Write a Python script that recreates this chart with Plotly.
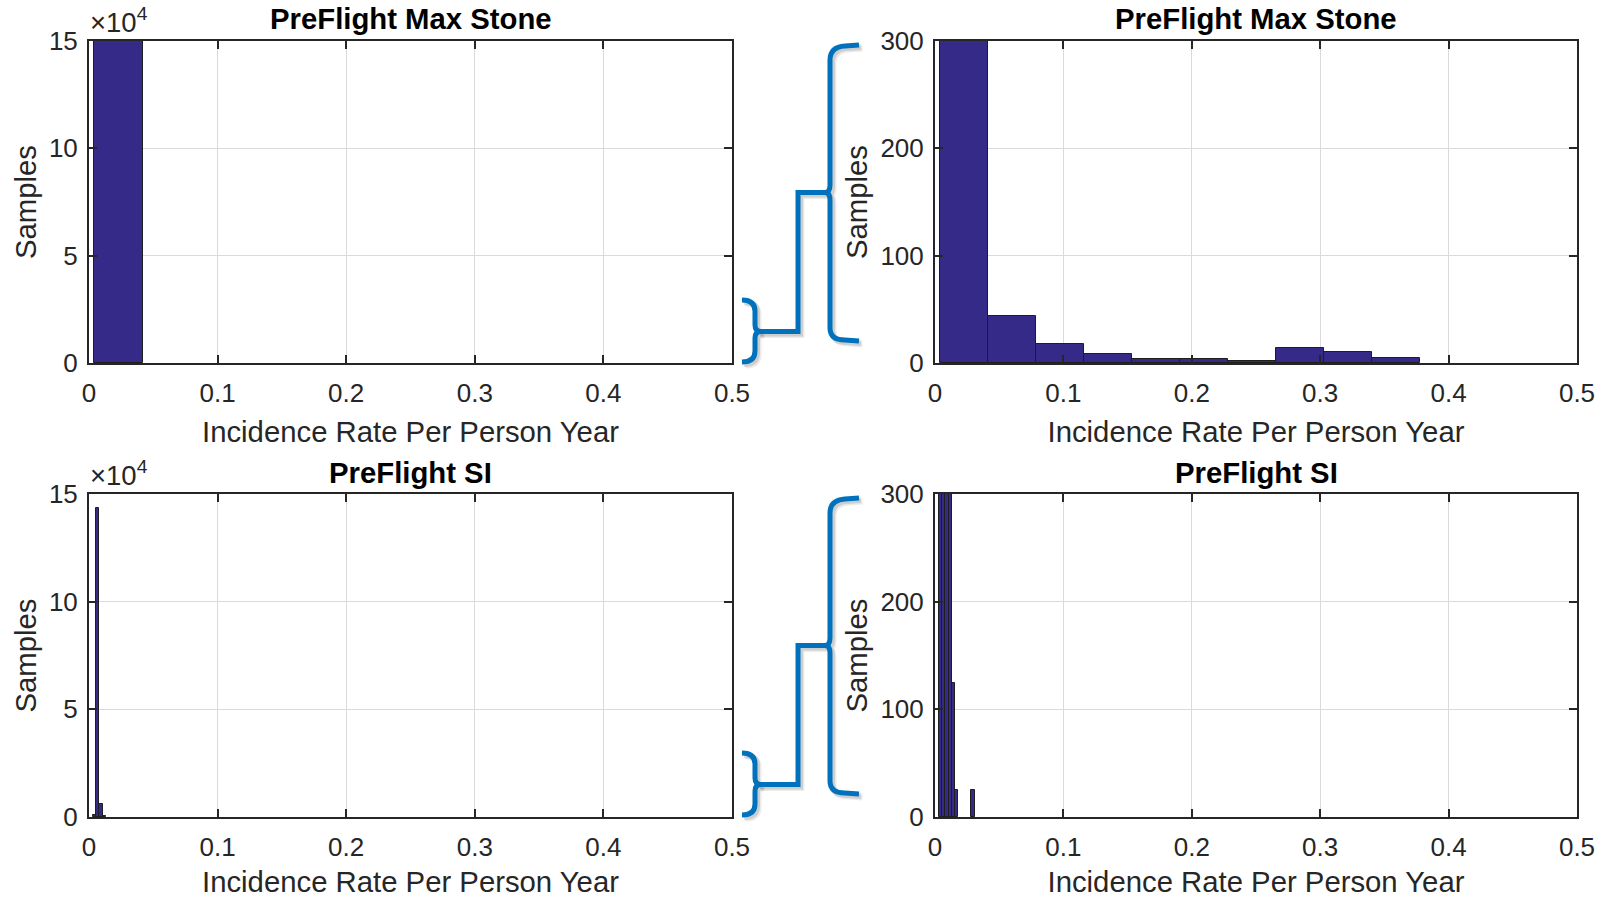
import numpy as np
import plotly.graph_objects as go

# ---------------- data ----------------
stone_edges = [0.0042, 0.0416, 0.0790, 0.1164, 0.1538, 0.1911, 0.2285, 0.2659, 0.3033, 0.3407, 0.3780]
stone_counts = [149895, 44, 18, 8, 4, 4, 2, 14, 10, 5]

si_edges = [0.0029, 0.00545, 0.0080, 0.01055, 0.0131, 0.01565, 0.0182, 0.02075, 0.0233, 0.02585, 0.0284, 0.03095]
si_counts = [900, 143600, 6200, 400, 124, 25, 0, 0, 0, 0, 25]

panel_titles = ["PreFlight Max Stone", "PreFlight Max Stone", "PreFlight SI", "PreFlight SI"]
x_ticks = [0, 0.1, 0.2, 0.3, 0.4, 0.5]
x_tick_labels = ["0", "0.1", "0.2", "0.3", "0.4", "0.5"]
full_y_ticks = [0, 50000, 100000, 150000]
full_y_tick_labels = ["0", "5", "10", "15"]
zoom_y_ticks = [0, 100, 200, 300]
zoom_y_tick_labels = ["0", "100", "200", "300"]
x_label = "Incidence Rate Per Person Year"
y_label = "Samples"
exponent_label = "×10<sup>4</sup>"

# ---------------- layout helpers ----------------
W, H = 1606, 898
FONT = "Liberation Sans, Arial, Helvetica, sans-serif"
BAR_FILL = "rgba(53,42,135,0.999)"
BAR_EDGE = "#1e1e1e"
AX_COLOR = "#262626"
GRID = "#dadada"
BRACKET = "#0072BD"
TICK_SIZE = 26
LABEL_SIZE = 29.3


def px(x):
    return x / W


def py(y):
    return 1 - y / H


panels = [
    dict(xd=(89, 732), yd=(41, 363), edges=stone_edges, counts=stone_counts,
         yr=[0, 150000], yt=full_y_ticks, ytl=full_y_tick_labels, title=panel_titles[0], exp=True),
    dict(xd=(935, 1577), yd=(41, 363), edges=stone_edges, counts=stone_counts,
         yr=[0, 300], yt=zoom_y_ticks, ytl=zoom_y_tick_labels, title=panel_titles[1], exp=False),
    dict(xd=(89, 732), yd=(494, 817), edges=si_edges, counts=si_counts,
         yr=[0, 150000], yt=full_y_ticks, ytl=full_y_tick_labels, title=panel_titles[2], exp=True),
    dict(xd=(935, 1577), yd=(494, 817), edges=si_edges, counts=si_counts,
         yr=[0, 300], yt=zoom_y_ticks, ytl=zoom_y_tick_labels, title=panel_titles[3], exp=False),
]

fig = go.Figure()
layout = dict(
    width=W, height=H,
    margin=dict(l=0, r=0, t=0, b=0, pad=0),
    paper_bgcolor="white", plot_bgcolor="white",
    font=dict(family=FONT, color=AX_COLOR),
    showlegend=False, bargap=0,
)
annotations = []
shapes = []

for i, p in enumerate(panels, start=1):
    edges = np.array(p["edges"])
    counts = np.array(p["counts"], dtype=float)
    centres = (edges[:-1] + edges[1:]) / 2
    widths = np.diff(edges)
    # outlines only where the bar is tall enough to be seen at this scale
    edge_w = np.where(counts >= 0.002 * p["yr"][1], 1.0, 0.0)
    fig.add_trace(go.Bar(
        x=centres, y=counts, width=widths,
        marker=dict(color=BAR_FILL, line=dict(color=BAR_EDGE, width=edge_w)),
        xaxis=f"x{i}", yaxis=f"y{i}", showlegend=False,
        hovertemplate="%{x:.4f}: %{y}<extra></extra>",
    ))
    common = dict(
        showgrid=True, gridcolor=GRID, gridwidth=1,
        showline=True, linecolor=AX_COLOR, linewidth=2, mirror="ticks",
        ticks="inside", ticklen=8, tickwidth=1.5, tickcolor=AX_COLOR,
        tickfont=dict(size=TICK_SIZE, family=FONT, color=AX_COLOR),
        zeroline=False, fixedrange=True, automargin=False,
    )
    layout[f"xaxis{i}"] = dict(
        common, domain=[px(p["xd"][0]), px(p["xd"][1])], range=[0, 0.5],
        tickmode="array", tickvals=x_ticks, ticktext=x_tick_labels,
        anchor=f"y{i}", ticklabelstandoff=6,
        title=dict(text=x_label, font=dict(size=LABEL_SIZE, family=FONT, color=AX_COLOR), standoff=14),
    )
    layout[f"yaxis{i}"] = dict(
        common, domain=[py(p["yd"][1]), py(p["yd"][0])], range=p["yr"],
        tickmode="array", tickvals=p["yt"], ticktext=p["ytl"],
        anchor=f"x{i}", ticklabelstandoff=4,
        title=dict(text=y_label, font=dict(size=LABEL_SIZE, family=FONT, color=AX_COLOR), standoff=4),
    )
    annotations.append(dict(
        text=f"<b>{p['title']}</b>", xref="paper", yref="paper",
        x=px((p["xd"][0] + p["xd"][1]) / 2), y=py(p["yd"][0] - 22),
        xanchor="center", yanchor="middle", showarrow=False,
        font=dict(size=LABEL_SIZE, family=FONT, color="black"),
    ))
    if p["exp"]:
        annotations.append(dict(
            text=exponent_label, xref="paper", yref="paper",
            x=px(p["xd"][0] - 1), y=py(p["yd"][0] - 1),
            xanchor="left", yanchor="bottom", showarrow=False,
            font=dict(size=27.5, family=FONT, color=AX_COLOR),
        ))


def path(cmds, sx=0.0, sy=0.0):
    out = []
    for c in cmds:
        if isinstance(c, str):
            out.append(c)
        else:
            out.append(f"{px(c[0] + sx):.5f},{py(c[1] + sy):.5f}")
    return " ".join(out)


def bracket_group(dy):
    small = ["M", (742, 300 + dy), "Q", (755, 300 + dy), (755, 311 + dy),
             "L", (755, 325 + dy), "Q", (755, 331.5 + dy), (761, 331.5 + dy),
             "Q", (755, 331.5 + dy), (755, 338 + dy),
             "L", (755, 351 + dy), "Q", (755, 362 + dy), (742, 362 + dy)]
    conn = ["M", (758, 331.5 + dy), "L", (798, 331.5 + dy), "L", (798, 192.5 + dy), "L", (828, 192.5 + dy)]
    big = ["M", (859, 45 + dy), "L", (845, 46 + dy), "Q", (830, 47 + dy), (830, 60 + dy),
           "L", (830, 185 + dy), "Q", (830, 192.5 + dy), (825, 192.5 + dy),
           "Q", (830, 192.5 + dy), (830, 200 + dy),
           "L", (830, 328 + dy), "Q", (830, 340 + dy), (845, 340 + dy), "L", (859, 341 + dy)]
    return [small, conn, big]


for dy in (0, 453):
    segs = bracket_group(dy)
    # soft drop shadow
    for sx, sy, op in ((3.5, 3.5, 0.08), (2, 2, 0.12)):
        for seg in segs:
            shapes.append(dict(type="path", xref="paper", yref="paper", path=path(seg, sx, sy),
                               line=dict(color=f"rgba(0,0,0,{op})", width=6), layer="above"))
    for seg in segs:
        shapes.append(dict(type="path", xref="paper", yref="paper", path=path(seg),
                           line=dict(color=BRACKET, width=5), layer="above"))

layout["annotations"] = annotations
layout["shapes"] = shapes
fig.update_layout(**layout)

fig.write_html(
    "out.html",
    config={"displayModeBar": False},
    post_script="document.body.style.margin='0px';document.body.style.overflow='hidden';",
)
